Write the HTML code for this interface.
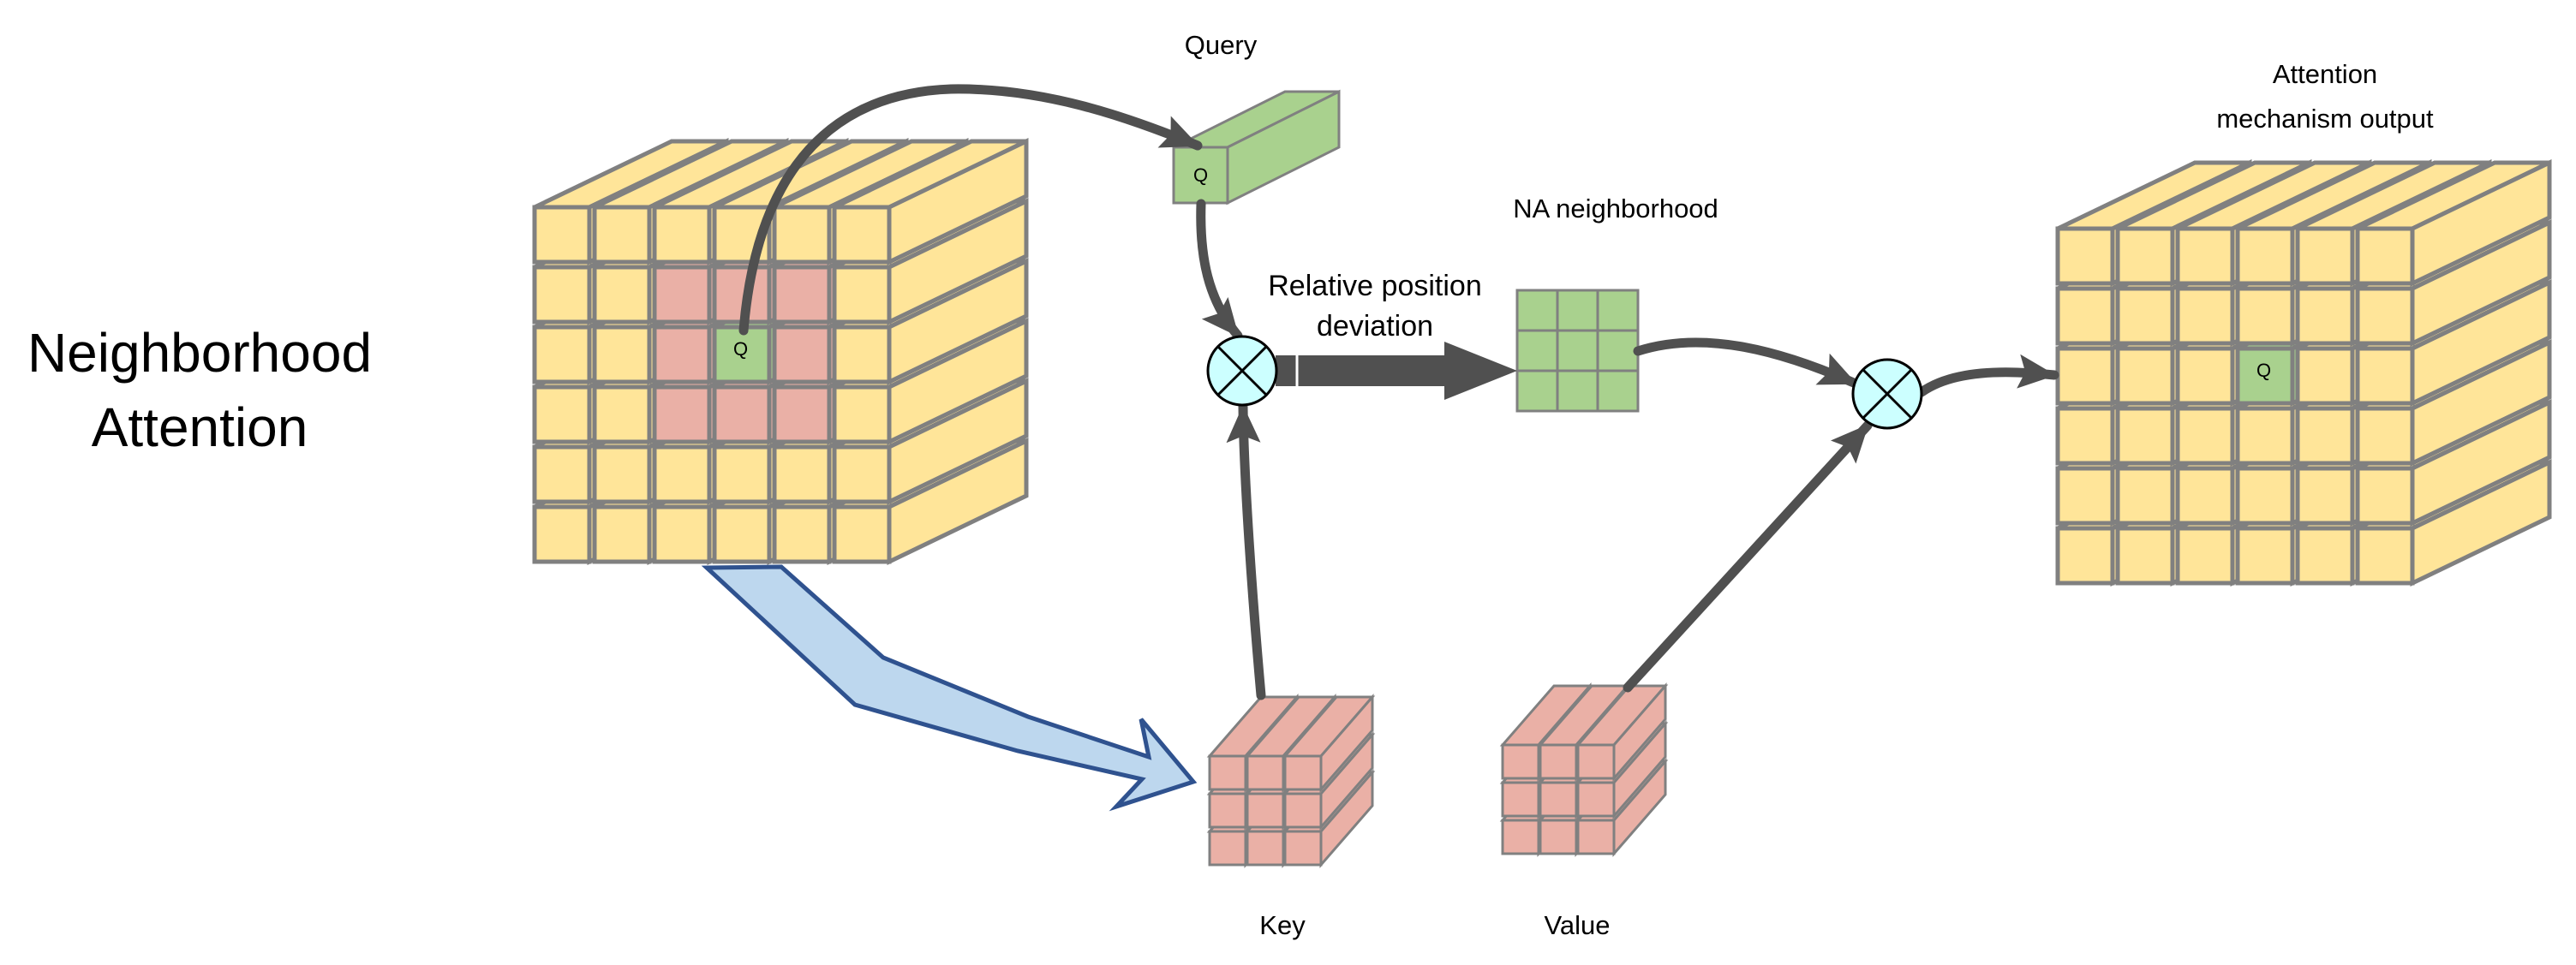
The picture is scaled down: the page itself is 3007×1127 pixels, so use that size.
<!DOCTYPE html>
<html><head><meta charset="utf-8">
<style>
html,body{margin:0;padding:0;background:#fff;}
svg{display:block;}
text{font-family:"Liberation Sans",sans-serif;fill:#000;}
</style></head>
<body>
<svg id="s" width="3007" height="1127" viewBox="0 0 3007 1127" xmlns="http://www.w3.org/2000/svg">
<defs>
<marker id="ah" markerUnits="userSpaceOnUse" markerWidth="46" markerHeight="40" refX="42" refY="20" orient="auto">
<path d="M0,0 L44,20 L0,40 L8,20 Z" fill="#505050"/>
</marker>
</defs>
<g id="shapes"></g>
<polygon points="825,663 912,662 1031,768 1200,837 1341,884 1332,840 1393,913 1303,942 1333,910 1188,877 998,823" fill="#BDD7EE" stroke="#2F528F" stroke-width="5" stroke-linejoin="miter"/>
<g fill="none" stroke="#505050" stroke-width="11" stroke-linecap="round">
<path d="M868,386 C880,240 940,110 1110,104 C1220,102 1320,138 1398,170" marker-end="url(#ah)"/>
<path d="M1402,238 C1400,300 1410,350 1445,392" marker-end="url(#ah)"/>
<path d="M1472,812 C1462,700 1452,560 1451,475" marker-end="url(#ah)"/>
<path d="M1900,803 L2180,497" marker-end="url(#ah)"/>
<path d="M1912,410 C1990,385 2080,410 2166,448" marker-end="url(#ah)"/>
<path d="M2243,458 C2280,432 2340,432 2398,438" marker-end="url(#ah)"/>
</g>
<polygon points="1489,415 1686,415 1686,399 1771,433 1686,467 1686,451 1489,451" fill="#505050"/>
<line x1="1514" y1="414" x2="1514" y2="452" stroke="#fff" stroke-width="3"/>
<g stroke="#000" stroke-width="3">
<circle cx="1450" cy="433" r="40" fill="#CCFFFF"/>
<line x1="1422" y1="405" x2="1478" y2="461"/><line x1="1478" y1="405" x2="1422" y2="461"/>
<circle cx="2203" cy="460" r="40" fill="#CCFFFF"/>
<line x1="2175" y1="432" x2="2231" y2="488"/><line x1="2231" y1="432" x2="2175" y2="488"/>
</g>
<text x="233" y="434" font-size="64" text-anchor="middle">Neighborhood</text>
<text x="233" y="521" font-size="64" text-anchor="middle">Attention</text>
<text x="1425" y="63" font-size="31" text-anchor="middle">Query</text>
<text x="1886" y="254" font-size="31" text-anchor="middle">NA neighborhood</text>
<text x="1605" y="345" font-size="34" text-anchor="middle">Relative position</text>
<text x="1605" y="392" font-size="34" text-anchor="middle">deviation</text>
<text x="2714" y="97" font-size="31" text-anchor="middle">Attention</text>
<text x="2714" y="149" font-size="31" text-anchor="middle">mechanism output</text>
<text x="1497" y="1091" font-size="31" text-anchor="middle">Key</text>
<text x="1841" y="1091" font-size="31" text-anchor="middle">Value</text>
</svg>
<script>
(function(){
var NS="http://www.w3.org/2000/svg";
var g=document.getElementById("shapes");
function el(t,a,p){var e=document.createElementNS(NS,t);for(var k in a)e.setAttribute(k,a[k]);(p||g).appendChild(e);return e;}
function prism(x,y,w,h,dx,dy,fill,sw){
 var st={fill:fill,stroke:"#808080","stroke-width":sw,"stroke-linejoin":"miter"};
 el("polygon",Object.assign({points:[x,y,x+dx,y+dy,x+w+dx,y+dy,x+w,y].join(",")},st));
 el("polygon",Object.assign({points:[x+w,y,x+w+dx,y+dy,x+w+dx,y+h+dy,x+w,y+h].join(",")},st));
 el("rect",Object.assign({x:x,y:y,width:w,height:h},st));
}
function cube(x0,y0,n,cw,ch,px,py,dx,dy,colorFn,sw){
 for(var r=n-1;r>=0;r--)for(var c=0;c<n;c++){
  prism(x0+c*px,y0+r*py,cw,ch,dx,dy,colorFn(r,c),sw);
 }
}
var Y="#FFE599",P="#EAB0A6",G="#A9D18E";
cube(624,242,6,64,64,70,70,160,-77,function(r,c){
 if(r==2&&c==3)return G;
 if(r>=1&&r<=3&&c>=2&&c<=4)return P;return Y;},5);
cube(2402,267,6,64,64,70,70,160,-77,function(r,c){return (r==2&&c==3)?G:Y;},5);
cube(1412,883,3,42,39,44,44,60,-69,function(){return P;},3);
cube(1754,870,3,42,39,44,44,60,-69,function(){return P;},3);
prism(1370,172,63,65,130,-65,G,3);
for(var r=0;r<3;r++)for(var c=0;c<3;c++)el("rect",{x:1771+c*47,y:339+r*47,width:47,height:47,fill:G,stroke:"#808080","stroke-width":3});
})();
</script>
<div style="position:absolute;left:0;top:0;width:3007px;height:1127px;pointer-events:none;">
<span style="position:absolute;left:856px;top:395px;font:22px 'Liberation Sans',sans-serif;">Q</span>
<span style="position:absolute;left:2634px;top:420px;font:22px 'Liberation Sans',sans-serif;">Q</span>
<span style="position:absolute;left:1393px;top:192px;font:22px 'Liberation Sans',sans-serif;">Q</span>
</div>
</body></html>
